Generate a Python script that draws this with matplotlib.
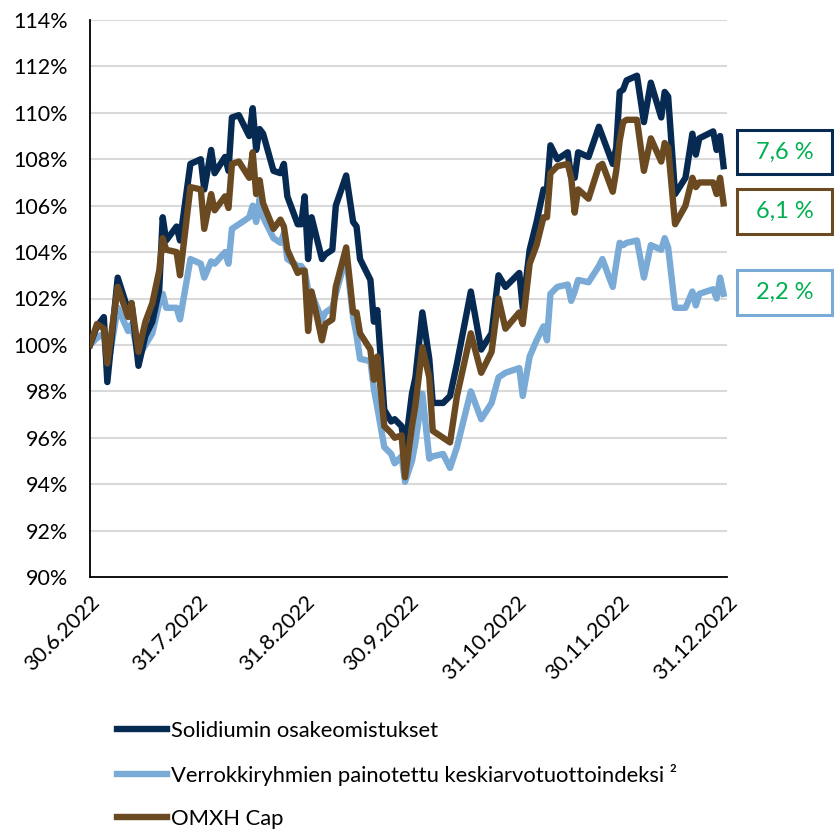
import matplotlib
matplotlib.use("Agg")
import matplotlib.pyplot as plt
from matplotlib.lines import Line2D
from matplotlib.patches import Rectangle

plt.rcParams['font.family'] = ['Lato', 'DejaVu Sans']

# day offsets from 30.6.2022
days = [0, 2, 4, 5, 8, 11, 12, 14, 16, 18, 20, 21, 22, 25, 26, 29, 32, 33, 35, 36,
        39, 40, 41, 43, 46, 47, 48, 49, 50, 53, 55, 56, 57, 60, 61, 62, 63, 64, 67, 68,
        70, 71, 74, 76, 77, 78, 81, 82, 83, 85, 87, 88, 90, 91, 93, 94, 96, 98, 99, 102,
        104, 106, 110, 113, 116, 118, 120, 124, 125, 127, 129, 131, 132, 133, 135, 138, 139, 140, 141, 144,
        147, 148, 151, 152, 153, 154, 155, 158, 160, 162, 165, 166, 167, 169, 172, 174, 175, 176, 180, 181,
        182, 183]

solidium = [100.0, 100.8, 101.2, 98.4, 102.9, 101.5, 101.8, 99.1, 100.4, 101.0, 102.4, 105.5, 104.5, 105.1, 104.5, 107.8, 108.0, 106.7, 108.4, 107.4,
            108.1, 107.5, 109.8, 109.9, 109.0, 110.2, 108.4, 109.3, 109.1, 107.5, 107.4, 107.8, 106.4, 105.2, 105.2, 106.4, 103.7, 105.5, 103.7, 103.9,
            104.1, 106.0, 107.3, 105.3, 105.1, 103.7, 102.8, 101.0, 101.5, 97.2, 96.7, 96.8, 96.5, 95.5, 97.9, 98.6, 101.4, 99.4, 97.5, 97.5,
            97.8, 99.2, 102.3, 99.8, 100.5, 103.0, 102.5, 103.1, 101.6, 104.1, 105.3, 106.7, 106.7, 108.6, 108.0, 108.3, 107.2, 107.2, 108.3, 108.1,
            109.4, 109.0, 107.8, 108.5, 110.9, 111.0, 111.4, 111.6, 109.6, 111.3, 109.8, 110.9, 110.7, 106.5, 107.2, 109.1, 108.2, 108.9, 109.2, 108.4,
            109.0, 107.7]

verrokki = [100.0, 100.3, 100.5, 98.9, 101.6, 100.6, 100.9, 99.5, 100.0, 100.5, 101.8, 102.2, 101.6, 101.6, 101.1, 103.7, 103.5, 102.9, 103.6, 103.5,
            104.0, 103.5, 105.0, 105.2, 105.5, 106.0, 105.3, 106.3, 105.5, 104.6, 104.4, 104.8, 103.7, 103.4, 103.4, 103.2, 102.4, 102.2, 101.1, 101.4,
            101.6, 102.2, 103.8, 101.2, 100.4, 99.4, 99.3, 98.1, 97.3, 95.6, 95.3, 94.9, 95.2, 94.1, 95.0, 95.8, 97.9, 95.1, 95.2, 95.3,
            94.7, 95.6, 98.0, 96.8, 97.5, 98.6, 98.8, 99.0, 97.8, 99.5, 100.2, 100.8, 100.2, 102.2, 102.5, 102.6, 101.9, 102.3, 102.8, 102.7,
            103.4, 103.7, 102.5, 103.5, 104.4, 104.3, 104.4, 104.5, 102.9, 104.3, 104.1, 104.6, 104.2, 101.6, 101.6, 102.3, 101.7, 102.2, 102.4, 102.0,
            102.9, 102.2]

omxh = [100.0, 100.9, 100.7, 99.2, 102.5, 101.2, 101.8, 99.7, 101.0, 101.8, 103.2, 104.6, 104.1, 104.0, 103.0, 106.8, 106.7, 105.0, 106.5, 105.8,
        106.4, 105.9, 107.8, 107.9, 107.2, 108.3, 106.5, 107.1, 106.1, 105.0, 105.4, 105.1, 104.1, 103.1, 103.2, 103.2, 100.6, 102.3, 100.2, 100.9,
        101.1, 102.5, 104.2, 101.4, 101.4, 100.5, 99.8, 98.5, 99.5, 96.5, 96.2, 96.0, 96.1, 94.3, 96.5, 97.4, 99.9, 98.6, 96.3, 96.0,
        95.8, 97.8, 100.5, 98.8, 99.7, 102.0, 100.7, 101.4, 100.9, 103.5, 104.3, 105.5, 105.5, 107.4, 107.7, 107.8, 107.2, 105.7, 106.7, 106.3,
        107.7, 107.8, 106.6, 107.5, 108.8, 109.6, 109.7, 109.7, 107.5, 108.9, 107.9, 108.7, 108.5, 105.2, 106.0, 107.2, 106.8, 107.0, 107.0, 106.5,
        107.2, 106.1]

tick_days = [0, 31, 62, 92, 123, 153, 184]
tick_labels = ["30.6.2022", "31.7.2022", "31.8.2022", "30.9.2022", "31.10.2022", "30.11.2022", "31.12.2022"]
y_ticks = list(range(90, 115, 2))

series_names = ["Solidiumin osakeomistukset",
                "Verrokkiryhmien painotettu keskiarvotuottoindeksi \u00b2",
                "OMXH Cap"]
end_labels = ["7,6 %", "2,2 %", "6,1 %"]

c_navy = "#062a52"
c_light = "#7aaad6"
c_brown = "#6b4a22"
c_green = "#00b050"

W, H = 834, 832
fig = plt.figure(figsize=(W / 100, H / 100), dpi=100)
ax = fig.add_axes([90 / W, 1 - 577 / H, (727 - 90) / W, (577 - 20) / H])

lw = 4.6
ax.plot(days, solidium, color=c_navy, lw=lw, solid_joinstyle='round', zorder=3)
ax.plot(days, verrokki, color=c_light, lw=lw, solid_joinstyle='round', zorder=2)
ax.plot(days, omxh, color=c_brown, lw=lw, solid_joinstyle='round', zorder=4)

ax.set_xlim(0, 184)
ax.set_ylim(90, 114)
ax.set_yticks(y_ticks)
ax.set_yticklabels([f"{v}%" for v in y_ticks])
ax.set_xticks(tick_days)
ax.set_xticklabels(tick_labels, rotation=45, ha='right', va='top', rotation_mode='anchor')
ax.tick_params(axis='both', length=0, labelsize=15.5, colors='black')
ax.tick_params(axis='x', pad=11)
ax.tick_params(axis='y', pad=16)
ax.grid(axis='y', color='#d9d9d9', lw=1.5, zorder=0)
ax.set_axisbelow(True)
for s in ['top', 'right']:
    ax.spines[s].set_visible(False)
for s in ['left', 'bottom']:
    ax.spines[s].set_color('black')
    ax.spines[s].set_linewidth(1.3)

# end value boxes
box_specs = [(130, 174, c_navy, end_labels[0]),
             (189, 234, c_brown, end_labels[2]),
             (270, 315, c_light, end_labels[1])]
for top, bot, col, txt in box_specs:
    x0, x1 = 737, 832
    fig.patches.append(Rectangle((x0 / W, 1 - bot / H), (x1 - x0) / W, (bot - top) / H,
                                 transform=fig.transFigure, fill=False, ec=col, lw=2.2))
    fig.text((x0 + x1) / 2 / W, 1 - (top + bot) / 2 / H, txt, color=c_green,
             fontsize=17, ha='center', va='center')

handles = [Line2D([], [], color=c_navy, lw=lw),
           Line2D([], [], color=c_light, lw=lw),
           Line2D([], [], color=c_brown, lw=lw)]
fig.legend(handles, series_names, loc='upper left', bbox_to_anchor=(108 / W, 1 - 712 / H),
           frameon=False, fontsize=15.8, handlelength=2.3, handletextpad=0.15,
           labelspacing=1.05, borderaxespad=0)

fig.savefig("out.png", dpi=100)
